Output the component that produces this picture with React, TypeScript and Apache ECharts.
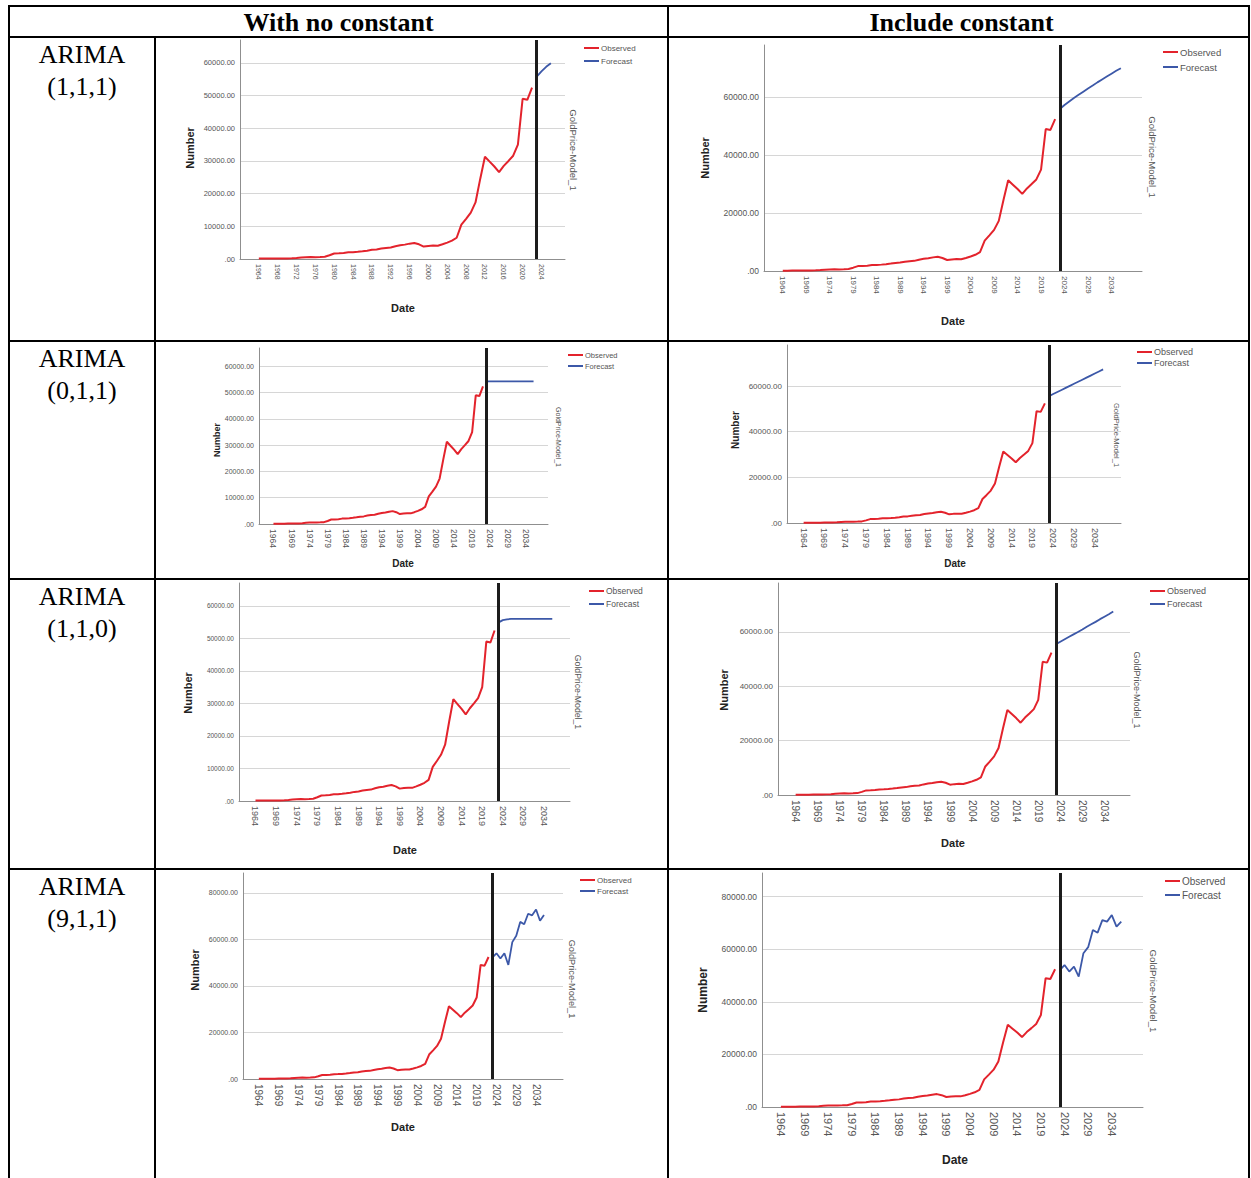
import React, { useEffect, useRef } from "react";
import * as echarts from "echarts";

// ---------- data ----------
const OBS_START = 1964;
const FORECAST_START = 2023;

const observed = [
  120, 125, 130, 135, 160, 180, 190, 230, 320, 450,
  560, 600, 560, 620, 700, 1150, 1700, 1750, 1850, 2050,
  2100, 2200, 2350, 2550, 2800, 2900, 3200, 3400, 3500, 3900,
  4200, 4400, 4700, 4900, 4500, 3800, 4000, 4100, 4050, 4500,
  5000, 5600, 6500, 10500, 12300, 14200, 17300, 24500, 31300, 29800,
  28300, 26600, 28500, 30000, 31600, 35000, 49000, 48700, 52400,
];

const fc111NoConst = [55800, 57400, 58800, 59900];
const fc111Const = [55900, 57300, 58500, 59700, 60800, 61900, 63000, 64000, 65100, 66100, 67100, 68100, 69100, 70000];
const fc011NoConst = [54300, 54300, 54300, 54300, 54300, 54300, 54300, 54300, 54300, 54300, 54300, 54300, 54300, 54300];
const fc011Const = [55600, 56500, 57400, 58300, 59200, 60100, 61000, 61900, 62800, 63700, 64600, 65500, 66400, 67300];
const fc110NoConst = [54900, 55600, 55850, 55950, 55980, 56000, 56000, 56000, 56000, 56000, 56000, 56000, 56000, 56000];
const fc110Const = [55500, 56400, 57300, 58200, 59100, 60000, 60900, 61900, 62800, 63700, 64700, 65600, 66500, 67500];
const fc911NoConst = [52300, 54000, 51800, 54000, 49000, 58800, 61500, 67500, 66500, 71000, 70300, 72800, 68000, 70500];
const fc911Const = [52100, 54000, 51500, 53400, 49600, 58500, 60800, 67300, 66300, 71100, 70500, 73000, 68600, 70500];

const xLabelsEvery4 = [1964, 1968, 1972, 1976, 1980, 1984, 1988, 1992, 1996, 2000, 2004, 2008, 2012, 2016, 2020, 2024];
const xLabelsEvery5 = [1964, 1969, 1974, 1979, 1984, 1989, 1994, 1999, 2004, 2009, 2014, 2019, 2024, 2029, 2034];

const headers = ["With no constant", "Include constant"];
const modelNames = ["(1,1,1)", "(0,1,1)", "(1,1,0)", "(9,1,1)"];
const legendNames = ["Observed", "Forecast"];
const modelTitle = "GoldPrice-Model_1";

// ---------- layout / style (not data) ----------
const RED = "#e3232c";
const BLUE = "#3c58a8";
const SANS = "Liberation Sans";
const SERIF = "Liberation Serif";

type ChartCfg = {
  l: number; t: number; r: number; b: number;
  xMax: number; yMax: number; yInt: number;
  labels: number[]; fc: number[];
  yFs: number; xFs: number;
  legX: number; legY: number; legFs: number; legPitch: number;
  num: [number, number, number]; date: [number, number, number]; gp: [number, number, number];
};

const charts: ChartCfg[] = [
  { l: 240, t: 40, r: 565, b: 259, xMax: 2029, yMax: 67000, yInt: 10000, labels: xLabelsEvery4, fc: fc111NoConst,
    yFs: 7.5, xFs: 7, legX: 584, legY: 48, legFs: 8, legPitch: 13, num: [190, 148, 11], date: [403, 308, 11], gp: [573, 150, 9.5] },
  { l: 764, t: 45, r: 1142, b: 271, xMax: 2040.5, yMax: 78000, yInt: 20000, labels: xLabelsEvery5, fc: fc111Const,
    yFs: 8.5, xFs: 8, legX: 1163, legY: 52, legFs: 9.5, legPitch: 15, num: [705, 158, 11], date: [953, 321, 11], gp: [1152, 157, 9.5] },
  { l: 259, t: 348, r: 548, b: 524, xMax: 2040, yMax: 67000, yInt: 10000, labels: xLabelsEvery5, fc: fc011NoConst,
    yFs: 7, xFs: 8.5, legX: 568, legY: 355, legFs: 7.5, legPitch: 11, num: [217, 440, 9], date: [403, 563, 10], gp: [558, 437, 7] },
  { l: 787, t: 345, r: 1121, b: 523, xMax: 2040.3, yMax: 78000, yInt: 20000, labels: xLabelsEvery5, fc: fc011Const,
    yFs: 8, xFs: 9, legX: 1137, legY: 352, legFs: 9, legPitch: 11, num: [735, 430, 10], date: [955, 563, 10], gp: [1116, 435, 7.5] },
  { l: 239, t: 583, r: 570, b: 801, xMax: 2040.3, yMax: 67000, yInt: 10000, labels: xLabelsEvery5, fc: fc110NoConst,
    yFs: 6.5, xFs: 9, legX: 589, legY: 591, legFs: 8.5, legPitch: 13, num: [188, 693, 11], date: [405, 850, 11], gp: [578, 692, 8.7] },
  { l: 778, t: 583, r: 1130, b: 795, xMax: 2039.8, yMax: 78000, yInt: 20000, labels: xLabelsEvery5, fc: fc110Const,
    yFs: 8, xFs: 10, legX: 1150, legY: 591, legFs: 9, legPitch: 13, num: [724, 690, 11], date: [953, 843, 11], gp: [1137, 690, 9] },
  { l: 243, t: 873, r: 563, b: 1079, xMax: 2040.8, yMax: 88500, yInt: 20000, labels: xLabelsEvery5, fc: fc911NoConst,
    yFs: 7, xFs: 10, legX: 580, legY: 880, legFs: 8, legPitch: 11, num: [195, 970, 11], date: [403, 1127, 11], gp: [572, 979, 9.2] },
  { l: 762, t: 873, r: 1143, b: 1107, xMax: 2040.6, yMax: 89000, yInt: 20000, labels: xLabelsEvery5, fc: fc911Const,
    yFs: 8.5, xFs: 11, legX: 1165, legY: 881, legFs: 10, legPitch: 14, num: [703, 990, 12], date: [955, 1160, 12], gp: [1153, 991, 9.7] },
];

const TABLE = { left: 9, right: 1249, top: 6, bottom: 1178, headerY: 37, col1: 155, col2: 668, rows: [341, 579, 869] };
const ROW_TOPS = [37, 341, 579, 869];

function buildOption() {
  const obsData = observed.map((v, i) => [OBS_START + i, v]);
  const grid: any[] = [];
  const xAxis: any[] = [];
  const yAxis: any[] = [];
  const series: any[] = [];
  const legend: any[] = [];
  const graphic: any[] = [];

  charts.forEach((c, i) => {
    grid.push({ left: c.l, top: c.t, width: c.r - c.l, height: c.b - c.t });
    xAxis.push({
      gridIndex: i, type: "value", min: 1960, max: c.xMax, interval: 1,
      axisLine: { show: true, onZero: false, lineStyle: { color: "#8f8f8f", width: 1 } },
      axisTick: { show: false }, splitLine: { show: false },
      axisLabel: {
        rotate: -90, fontSize: c.xFs, color: "#555", fontFamily: SANS, margin: 5,
        formatter: (v: number) => (c.labels.includes(v) ? String(v) : ""),
      },
    });
    yAxis.push({
      gridIndex: i, type: "value", min: 0, max: c.yMax, interval: c.yInt,
      axisLine: { show: true, onZero: false, lineStyle: { color: "#8f8f8f", width: 1 } },
      axisTick: { show: false },
      splitLine: { show: true, showMinLine: false, showMaxLine: false, lineStyle: { color: "#d6d6d6", width: 1 } },
      axisLabel: {
        fontSize: c.yFs, color: "#555", fontFamily: SANS, margin: 5, showMaxLabel: false,
        formatter: (v: number) => (v === 0 ? ".00" : v % c.yInt !== 0 ? "" : v.toFixed(2)),
      },
    });
    const fcData = c.fc.map((v, k) => [FORECAST_START + k, v]);
    series.push({
      type: "line", name: legendNames[0], xAxisIndex: i, yAxisIndex: i, data: obsData,
      symbol: "none", lineStyle: { color: RED, width: 2 }, itemStyle: { color: RED },
    });
    series.push({
      type: "line", name: legendNames[1], xAxisIndex: i, yAxisIndex: i, data: fcData,
      symbol: "none", lineStyle: { color: BLUE, width: 1.8 }, itemStyle: { color: BLUE },
      markLine: {
        silent: true, symbol: "none", label: { show: false },
        lineStyle: { color: "#1c1c1c", width: 3, type: "solid" },
        data: [{ xAxis: FORECAST_START }],
      },
    });
    const lh = c.legFs + 2;
    legend.push({
      orient: "vertical", left: c.legX, top: c.legY - lh / 2, padding: 0,
      itemWidth: 15, itemHeight: 2, itemGap: c.legPitch - lh, icon: "rect", selectedMode: false,
      textStyle: { fontSize: c.legFs, lineHeight: lh, color: "#555", fontFamily: SANS, padding: [0, 0, 0, -3] },
      data: legendNames,
    });
    graphic.push({
      type: "text", x: c.num[0], y: c.num[1], rotation: Math.PI / 2,
      style: { text: "Number", fontSize: c.num[2], fontWeight: "bold", fontFamily: SANS, fill: "#222", align: "center", verticalAlign: "middle" },
    });
    graphic.push({
      type: "text", x: c.date[0], y: c.date[1],
      style: { text: "Date", fontSize: c.date[2], fontWeight: "bold", fontFamily: SANS, fill: "#222", align: "center", verticalAlign: "middle" },
    });
    graphic.push({
      type: "text", x: c.gp[0], y: c.gp[1], rotation: -Math.PI / 2,
      style: { text: modelTitle, fontSize: c.gp[2], fontFamily: SANS, fill: "#555", align: "center", verticalAlign: "middle" },
    });
  });

  // table lines
  const line = (x1: number, y1: number, x2: number, y2: number) => ({
    type: "line", shape: { x1, y1, x2, y2 }, style: { stroke: "#000", lineWidth: 2 }, z: 10,
  });
  graphic.push(line(TABLE.left - 1, TABLE.top, TABLE.right + 1, TABLE.top));
  graphic.push(line(TABLE.left, TABLE.top, TABLE.left, TABLE.bottom));
  graphic.push(line(TABLE.right, TABLE.top, TABLE.right, TABLE.bottom));
  graphic.push(line(TABLE.left, TABLE.headerY, TABLE.right, TABLE.headerY));
  graphic.push(line(TABLE.col1, TABLE.headerY, TABLE.col1, TABLE.bottom));
  graphic.push(line(TABLE.col2, TABLE.top, TABLE.col2, TABLE.bottom));
  TABLE.rows.forEach((y) => graphic.push(line(TABLE.left, y, TABLE.right, y)));

  // headers
  graphic.push({
    type: "text", x: (TABLE.left + TABLE.col2) / 2, y: 22,
    style: { text: headers[0], fontSize: 26, fontWeight: "bold", fontFamily: SERIF, fill: "#000", align: "center", verticalAlign: "middle" },
  });
  graphic.push({
    type: "text", x: (TABLE.col2 + TABLE.right) / 2 + 3, y: 22,
    style: { text: headers[1], fontSize: 26, fontWeight: "bold", fontFamily: SERIF, fill: "#000", align: "center", verticalAlign: "middle" },
  });
  modelNames.forEach((m, r) => {
    const cx = (TABLE.left + TABLE.col1) / 2;
    graphic.push({
      type: "text", x: cx, y: ROW_TOPS[r] + 17,
      style: { text: "ARIMA", fontSize: 26, fontFamily: SERIF, fill: "#000", align: "center", verticalAlign: "middle" },
    });
    graphic.push({
      type: "text", x: cx, y: ROW_TOPS[r] + 49,
      style: { text: m, fontSize: 26, fontFamily: SERIF, fill: "#000", align: "center", verticalAlign: "middle" },
    });
  });

  return { animation: false, backgroundColor: "#fff", grid, xAxis, yAxis, series, legend, graphic };
}

export default function App() {
  const ref = useRef<HTMLDivElement>(null);
  useEffect(() => {
    const chart = echarts.init(ref.current!, null, { renderer: "svg" });
    chart.setOption(buildOption() as any);
    return () => chart.dispose();
  }, []);
  return (
    <div
      ref={ref}
      style={{ position: "absolute", left: 0, top: 0, width: 1251, height: 1178, background: "#fff" }}
    />
  );
}
